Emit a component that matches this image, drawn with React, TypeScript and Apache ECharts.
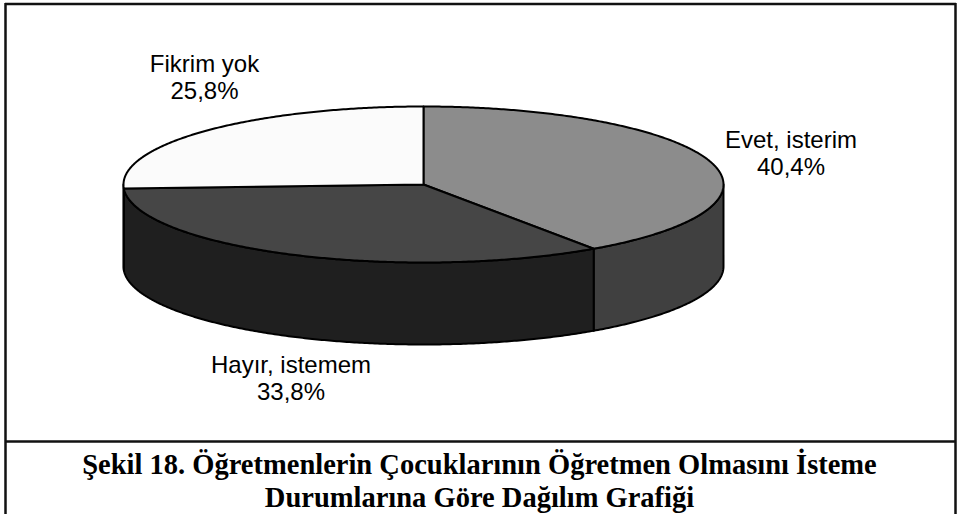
import React, { useEffect, useRef } from "react";
import * as echarts from "echarts";

const names = ["Evet, isterim", "Hayır, istemem", "Fikrim yok"];
const values = [40.4, 33.8, 25.8];
const valueLabels = ["40,4%", "33,8%", "25,8%"];
const caption = "Şekil 18. Öğretmenlerin Çocuklarının Öğretmen Olmasını İsteme\nDurumlarına Göre Dağılım Grafiği";

const topColors = ["#8c8c8c", "#464646", "#fbfbfb"];
const sideColors = ["#404040", "#1f1f1f", "#1f1f1f"];
const labelCenters = [[791, 153], [291, 378], [204.5, 77]];

const CX = 423.5, CY = 184.5, RX = 300, RY = 78, DEPTH = 82;

const pt = (deg: number, dy = 0) => {
  const r = (deg * Math.PI) / 180;
  return [CX + RX * Math.sin(r), CY - RY * Math.cos(r) + dy];
};
const arc = (a: number, b: number, dy = 0) => {
  const n = Math.max(2, Math.ceil(Math.abs(b - a) * 2));
  const out: number[][] = [];
  for (let i = 0; i <= n; i++) out.push(pt(a + ((b - a) * i) / n, dy));
  return out;
};

const renderItem = (params: any, api: any) => {
  const i = params.dataIndex;
  const total = values.reduce((s, v) => s + v, 0);
  let before = 0;
  for (let k = 0; k < i; k++) before += values[k];
  const a = (before / total) * 360;
  const b = ((before + api.value(0)) / total) * 360;
  const lineStyle = { stroke: "#000", lineWidth: 2, lineJoin: "round" };
  const children: any[] = [];
  const sa = Math.max(a, 90), sb = Math.min(b, 270);
  if (sb > sa) {
    children.push({
      type: "polygon",
      shape: { points: [...arc(sa, sb), ...arc(sb, sa, DEPTH)] },
      style: { fill: sideColors[i], ...lineStyle },
    });
  }
  children.push({
    type: "polygon",
    shape: { points: [[CX, CY], ...arc(a, b)] },
    style: { fill: topColors[i], ...lineStyle },
  });
  children.push({
    type: "text",
    style: {
      text: names[i] + "\n" + valueLabels[i],
      x: labelCenters[i][0],
      y: labelCenters[i][1],
      align: "center",
      verticalAlign: "middle",
      fill: "#000",
      font: '24px "Liberation Sans", Arial, sans-serif',
      lineHeight: 27,
    },
  });
  return { type: "group", children };
};

export default function App() {
  const ref = useRef<HTMLDivElement>(null);
  useEffect(() => {
    const chart = echarts.init(ref.current!, null, { renderer: "svg" });
    chart.setOption({
      animation: false,
      backgroundColor: "#ffffff",
      title: {
        text: caption,
        left: "center",
        top: 448,
        padding: 0,
        textStyle: {
          fontFamily: '"Liberation Serif", serif',
          fontWeight: "bold",
          fontSize: 28.5,
          lineHeight: 33,
          color: "#000",
        },
      },
      series: [
        {
          type: "custom",
          coordinateSystem: "none",
          renderItem,
          data: values.map((v, i) => ({ name: names[i], value: [v] })),
          silent: true,
        },
      ],
      graphic: [
        { type: "line", shape: { x1: 5, y1: 4, x2: 956, y2: 4 }, style: { stroke: "#111", lineWidth: 2.5 } },
        { type: "line", shape: { x1: 5.5, y1: 3, x2: 5.5, y2: 514 }, style: { stroke: "#111", lineWidth: 2.5 } },
        { type: "line", shape: { x1: 955.5, y1: 3, x2: 955.5, y2: 514 }, style: { stroke: "#111", lineWidth: 2.5 } },
        { type: "line", shape: { x1: 5, y1: 441.5, x2: 956, y2: 441.5 }, style: { stroke: "#111", lineWidth: 2.5 } },
      ],
    });
    return () => chart.dispose();
  }, []);
  return <div ref={ref} style={{ position: "absolute", left: 0, top: 0, width: 959, height: 514 }} />;
}
